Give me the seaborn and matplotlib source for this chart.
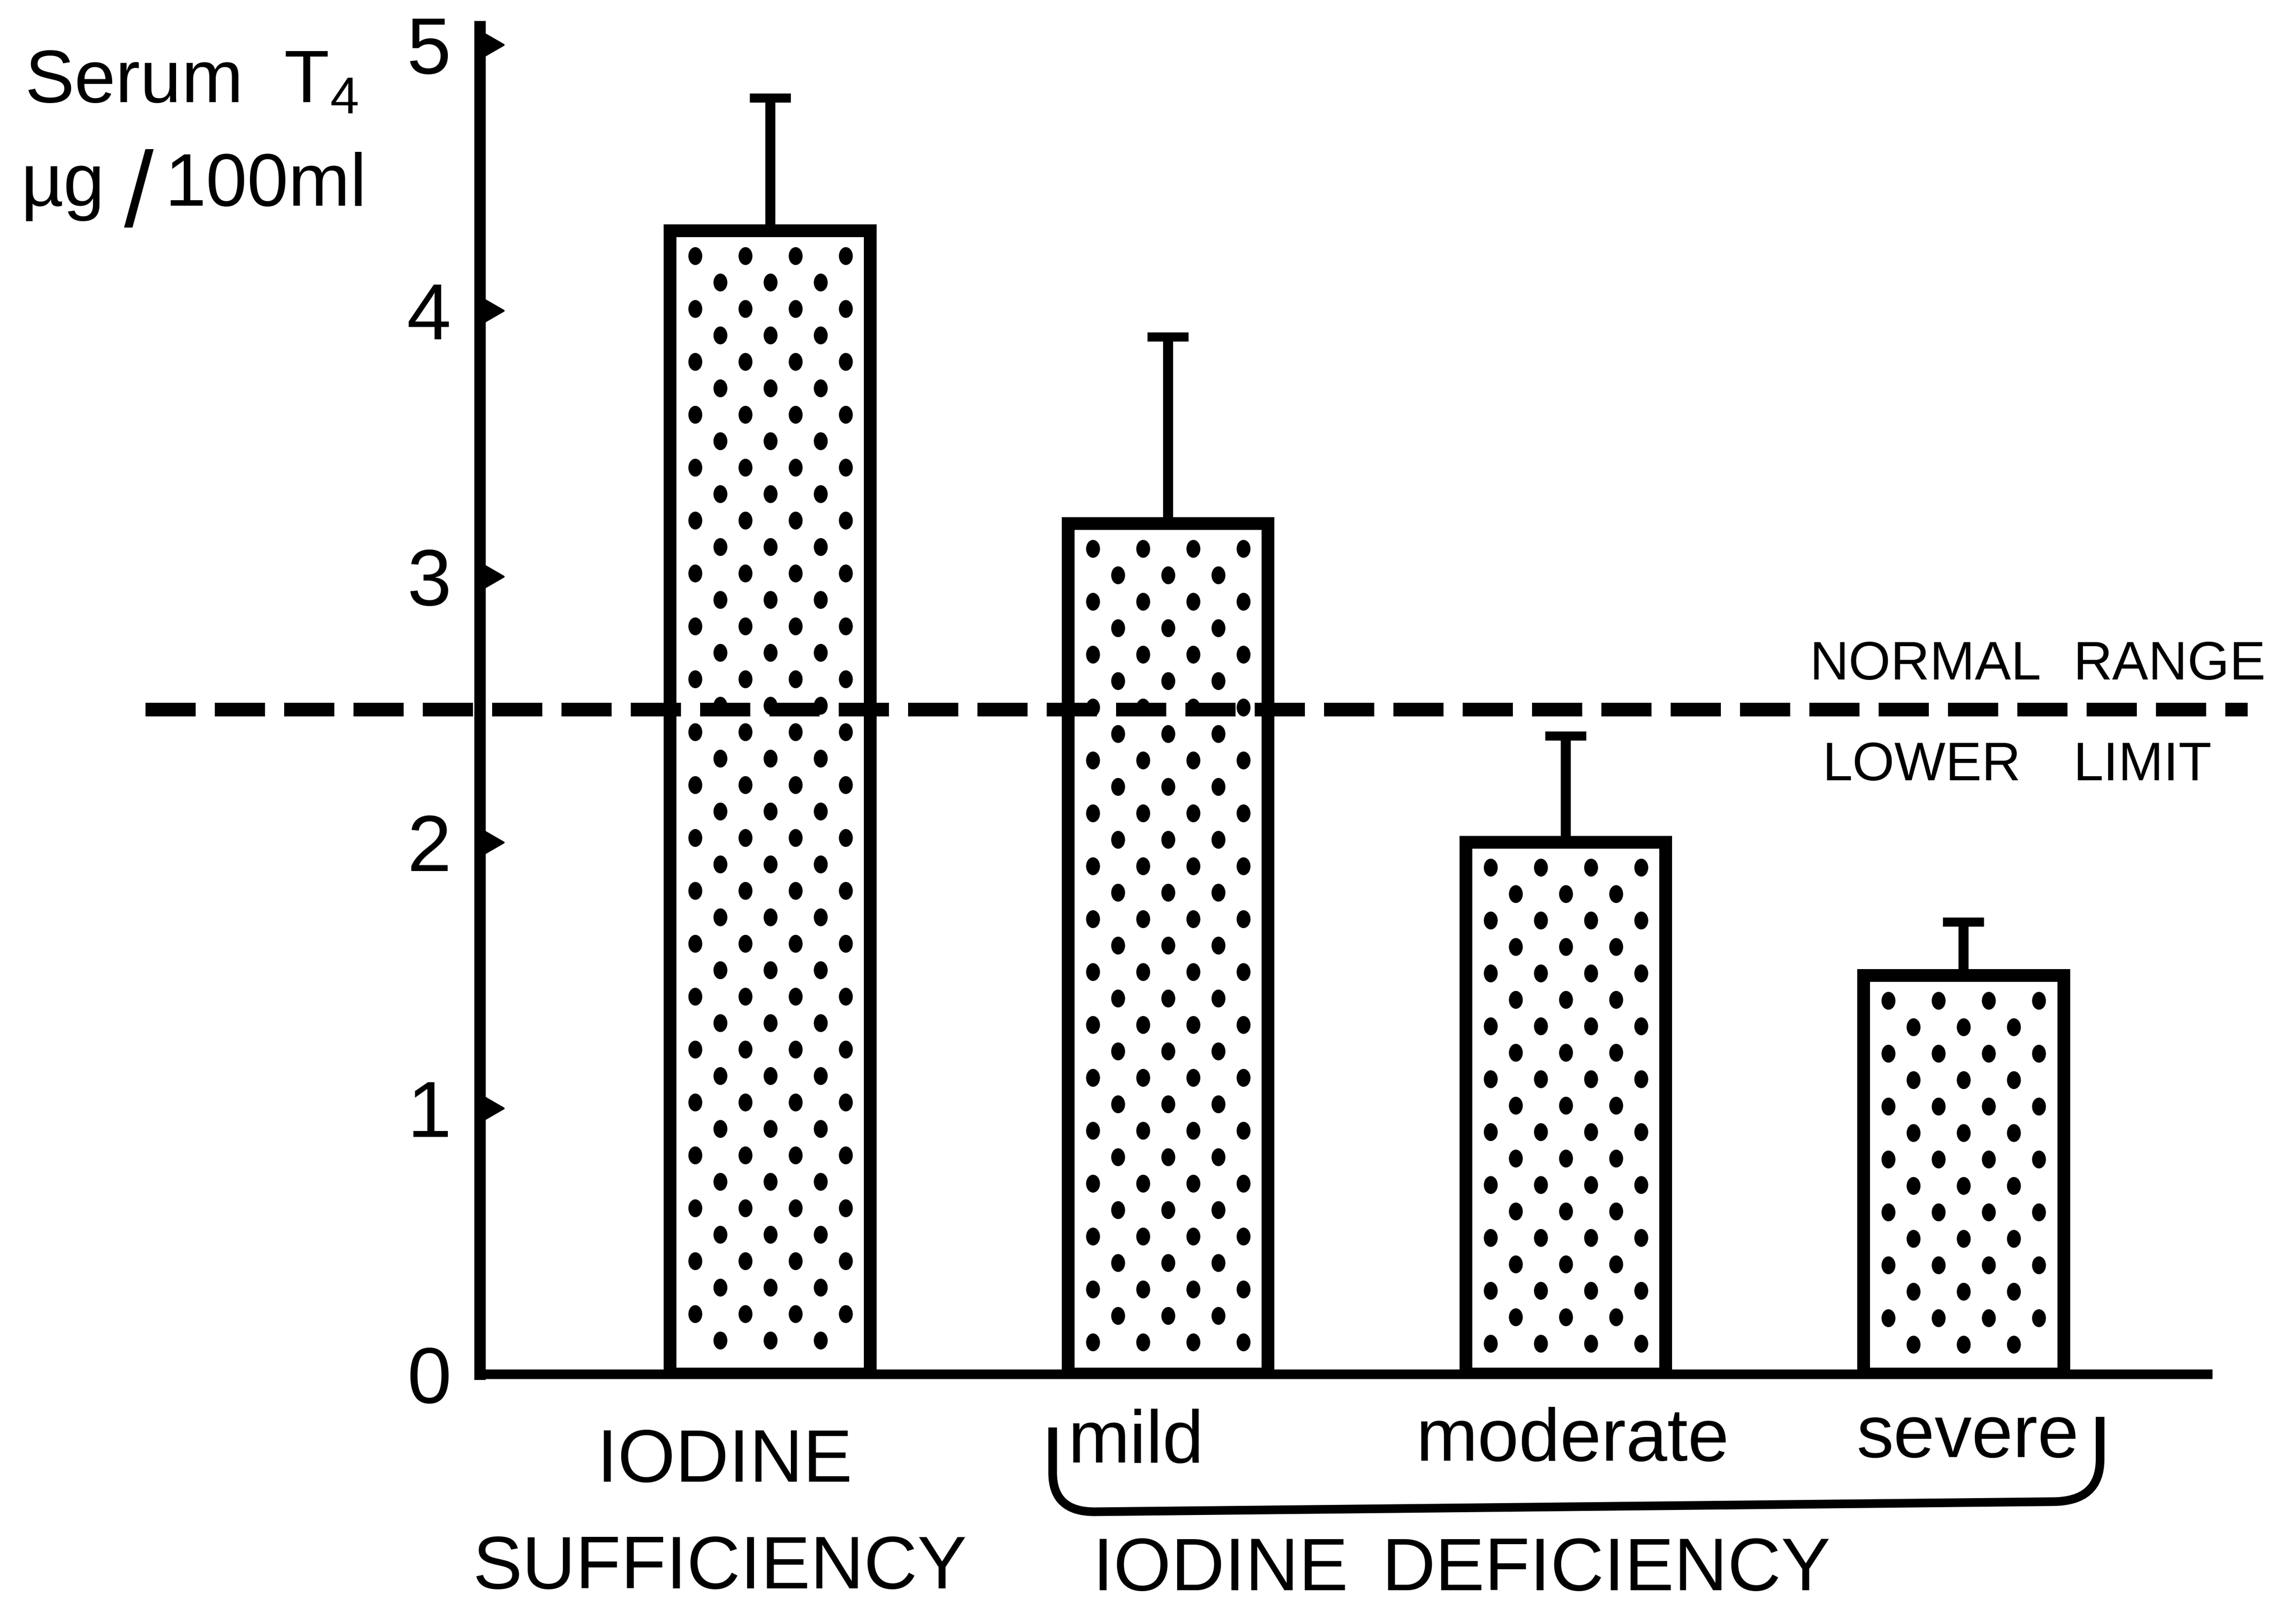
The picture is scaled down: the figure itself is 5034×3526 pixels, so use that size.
import numpy as np
import pandas as pd
import matplotlib
matplotlib.use("Agg")
import matplotlib.pyplot as plt
from matplotlib import font_manager
from matplotlib.path import Path
from matplotlib.patches import PathPatch
from matplotlib.transforms import Affine2D
import seaborn as sns

# ---- data -------------------------------------------------------------
groups = ["sufficiency", "mild", "moderate", "severe"]
t4_mean = [4.3, 3.2, 2.0, 1.5]          # serum T4, µg/100 ml
t4_err = [0.5, 0.7, 0.4, 0.2]           # upper error bar
normal_lower_limit = 2.5
y_ticks = [0, 1, 2, 3, 4, 5]
severity_labels = ["mild", "moderate", "severe"]
sufficiency_label = ["IODINE", "SUFFICIENCY"]
deficiency_label = ["IODINE", "DEFICIENCY"]
limit_label = [["NORMAL", "RANGE"], ["LOWER", "LIMIT"]]

# ---- style ------------------------------------------------------------
sns.set_theme(style="white")
available = {f.name for f in font_manager.fontManager.ttflist}
FONT = "Liberation Sans Narrow" if "Liberation Sans Narrow" in available else "Liberation Sans"
plt.rcParams["font.family"] = [FONT, "Liberation Sans", "DejaVu Sans"]
plt.rcParams["mathtext.fontset"] = "custom"
plt.rcParams["mathtext.rm"] = FONT
plt.rcParams["mathtext.it"] = FONT
plt.rcParams["text.color"] = "black"

W, H, DPI = 5034, 3526, 300
PX = 72.0 / DPI  # points per output pixel

fig = plt.figure(figsize=(W / DPI, H / DPI), dpi=DPI, facecolor="white")
ax = fig.add_axes([1052 / W, (H - 3013) / H, (4840 - 1052) / W, (3013 - 58) / H])
ax.set_facecolor("white")

# ---- bars -------------------------------------------------------------
df = pd.DataFrame({"group": groups, "t4": t4_mean})
sns.barplot(data=df, x="group", y="t4", order=groups, width=0.503,
            color="white", saturation=1, edgecolor="black",
            linewidth=28 * PX, errorbar=None, ax=ax, zorder=2)
bars = list(ax.patches)

ax.set_xlim(-0.730, 3.613)
ax.set_ylim(0, 5.069)

xpos = np.arange(len(groups))
ax.errorbar(xpos, t4_mean, yerr=[np.zeros(len(groups)), t4_err], fmt="none",
            ecolor="black", elinewidth=22 * PX, capsize=45 * PX,
            capthick=20 * PX, zorder=3)

# stipple texture inside each bar (staggered rows of small oval dots)
dot = Path.unit_circle().transformed(Affine2D().scale(0.75, 1.0))
to_px = ax.transData
inv = to_px.inverted()
for bar in bars:
    x0, y0 = bar.get_x(), bar.get_y()
    l, b = to_px.transform((x0, y0))
    r, t = to_px.transform((x0 + bar.get_width(), y0 + bar.get_height()))
    cx = 0.5 * (l + r)
    pts = []
    for i, ry in enumerate(np.arange(t - 55, b + 45, -58.0)):
        offs = [-165, -55, 55, 165] if i % 2 == 0 else [-110, 0, 110]
        pts += [(cx + o, ry) for o in offs]
    pts = inv.transform(np.array(pts))
    ax.plot(pts[:, 0], pts[:, 1], ls="none", marker=dot, ms=35 * PX,
            color="black", zorder=2.5)

# normal range lower limit
ax.plot([-1.57, 3.714], [normal_lower_limit] * 2, color="black", lw=30 * PX,
        ls=(0, (110 / 30, 42 / 30)), dash_capstyle="butt", clip_on=False,
        zorder=5)
fs_lim = 28.5
ax.text(2.612, normal_lower_limit + 0.112, limit_label[0][0], fontsize=fs_lim,
        ha="left", va="baseline")
ax.text(3.275, normal_lower_limit + 0.112, limit_label[0][1], fontsize=fs_lim,
        ha="left", va="baseline")
ax.text(2.644, normal_lower_limit - 0.267, limit_label[1][0], fontsize=fs_lim,
        ha="left", va="baseline")
ax.text(3.275, normal_lower_limit - 0.267, limit_label[1][1], fontsize=fs_lim,
        ha="left", va="baseline")

# ---- axes -------------------------------------------------------------
for side in ["top", "right"]:
    ax.spines[side].set_visible(False)
ax.spines["left"].set_linewidth(25 * PX)
ax.spines["bottom"].set_linewidth(21 * PX)
for side in ["left", "bottom"]:
    ax.spines[side].set_color("black")
    ax.spines[side].set_capstyle("projecting")
    ax.spines[side].set_zorder(4)

ax.set_xlabel("")
ax.set_ylabel("")
ax.set_xticks([])
ax.set_yticks(y_ticks)
ax.set_yticklabels([str(v) for v in y_ticks], fontsize=42)
ax.tick_params(axis="y", length=0, pad=15, colors="black")

# triangular tick marks pointing into the plot
tri = Path([(0, -1), (1.73, 0), (0, 1), (0, -1)],
           [Path.MOVETO, Path.LINETO, Path.LINETO, Path.CLOSEPOLY])
ax.plot([0] * 5, y_ticks[1:], ls="none", marker=tri, ms=24.9,
        color="black", transform=ax.get_yaxis_transform(), clip_on=False,
        zorder=6)

# ---- category labels --------------------------------------------------
fs_cat = 39
ax.text(xpos[0] - 0.114, -0.405, sufficiency_label[0], fontsize=fs_cat,
        ha="center", va="baseline", clip_on=False)
ax.text(xpos[0] - 0.126, -0.806, sufficiency_label[1], fontsize=fs_cat,
        ha="center", va="baseline", clip_on=False)
for k, (lab, dx, y) in enumerate(zip(severity_labels,
                                     [-0.081, 0.017, 0.010],
                                     [-0.333, -0.326, -0.312])):
    ax.text(xpos[k + 1] + dx, y, lab, fontsize=fs_cat, ha="center",
            va="baseline", clip_on=False)
ax.text(1.132, -0.813, deficiency_label[0], fontsize=fs_cat, ha="center",
        va="baseline", clip_on=False)
ax.text(2.102, -0.813, deficiency_label[1], fontsize=fs_cat, ha="center",
        va="baseline", clip_on=False)

# brace grouping the deficiency categories
xl, xr = xpos[1] - 0.290, xpos[3] + 0.343
ytl, ytr, ybl, ybr = -0.201, -0.161, -0.518, -0.480
brace = Path(
    [(xl, ytl), (xl, ybl + 0.146), (xl, ybl), (xl + 0.105, ybl),
     (xr - 0.12, ybr), (xr, ybr), (xr, ybr + 0.16), (xr, ytr)],
    [Path.MOVETO, Path.LINETO, Path.CURVE3, Path.CURVE3,
     Path.LINETO, Path.CURVE3, Path.CURVE3, Path.LINETO])
ax.add_patch(PathPatch(brace, fill=False, lw=19 * PX, edgecolor="black",
                       capstyle="butt", joinstyle="round", clip_on=False))

# ---- y axis title -----------------------------------------------------
fs_y = 39
fig.text(54 / W, 1 - 224 / H, r"Serum  T$_{4}$", fontsize=fs_y,
         ha="left", va="baseline")
fig.text(46 / W, 1 - 451 / H, "µg", fontsize=fs_y, ha="left", va="baseline")
fig.text(272 / W, 1 - 497 / H, "/", fontsize=56, ha="left", va="baseline")
fig.text(362 / W, 1 - 451 / H, "100ml", fontsize=fs_y, ha="left",
         va="baseline")

fig.savefig("out.png", dpi=DPI, facecolor="white")
